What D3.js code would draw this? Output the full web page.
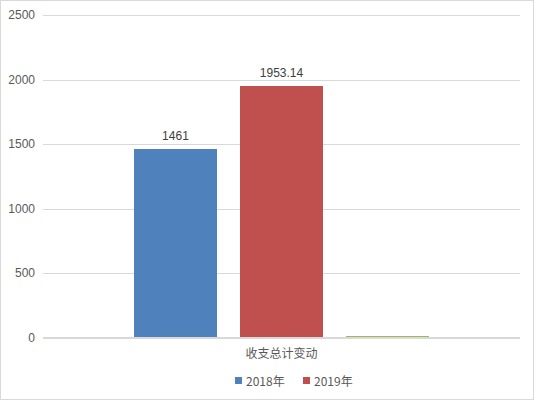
<!DOCTYPE html>
<html><head><meta charset="utf-8">
<script src="https://cdn.jsdelivr.net/npm/d3@7"></script>
<style>body{margin:0;background:#fff}svg{display:block;font-family:"Noto Sans CJK SC","Liberation Sans",sans-serif}</style>
</head><body><svg id="c" width="535" height="401"></svg>
<script>
const categories = ["收支总计变动"];
const seriesNames = ["2018年", "2019年", "变动"];
const values2018 = [1461];
const values2019 = [1953.14];
const valuesChange = [8];
const valueLabels = ["1461", "1953.14", ""];
const yTicks = [0, 500, 1000, 1500, 2000, 2500];
const legendNames = ["2018年", "2019年"];
const colors = ["#4F81BD", "#C0504D", "#9BBB59"];

(function(){
const svg = d3.select("#c");
svg.append("rect").attr("x",0.5).attr("y",0.5).attr("width",533).attr("height",399)
  .attr("fill","#fff").attr("stroke","#D9D9D9");

const mL = 43, mR = 520, mT = 15, mB = 337.5;
const y = d3.scaleLinear().domain([0, 2500]).range([mB, mT]);
const x0 = d3.scaleBand().domain(categories).range([mL, mR]);
const bw = x0.bandwidth();
const x1 = d3.scaleBand().domain(seriesNames).range([bw*0.191, bw*0.809]).paddingInner(0.22);

const yAxis = d3.axisLeft(y).tickValues(yTicks).tickSize(-(mR-mL)).tickPadding(8).tickFormat(d3.format("d"));
const ga = svg.append("g").attr("transform", `translate(${mL},0)`).call(yAxis);
ga.select(".domain").remove();
ga.selectAll(".tick line").attr("stroke", "#D9D9D9").attr("stroke-width",1)
  .attr("shape-rendering","crispEdges");
ga.selectAll(".tick text").attr("fill", "#595959").attr("font-size", 12)
  .attr("font-family","'Liberation Sans',sans-serif");

const data = categories.map((c,i)=>({cat:c, vals:[values2018[i], values2019[i], valuesChange[i]]}));
const g = svg.append("g");
data.forEach(d=>{
  const gg = g.append("g").attr("transform", `translate(${x0(d.cat)},0)`);
  gg.selectAll("rect").data(d.vals).join("rect")
    .attr("x",(v,i)=>x1(seriesNames[i])).attr("width",x1.bandwidth())
    .attr("y",v=>y(v)).attr("height",v=>mB-y(v))
    .attr("fill",(v,i)=>colors[i]).attr("shape-rendering","crispEdges");
  gg.selectAll("text").data(d.vals).join("text")
    .attr("x",(v,i)=>x1(seriesNames[i])+x1.bandwidth()/2)
    .attr("y",v=>y(v)-9)
    .attr("text-anchor","middle").attr("font-size",12).attr("fill","#404040")
    .attr("font-family","'Liberation Sans',sans-serif")
    .text((v,i)=>valueLabels[i]);
});
svg.append("line").attr("x1",mL).attr("x2",mR).attr("y1",y(0)).attr("y2",y(0))
  .attr("stroke","#D9D9D9").attr("shape-rendering","crispEdges");

svg.selectAll(".cat").data(categories).join("text").attr("class","cat")
  .attr("x",d=>x0(d)+bw/2).attr("y",358).attr("text-anchor","middle")
  .attr("font-size",12).attr("fill","#595959").text(d=>d);

const lg = svg.append("g").attr("transform","translate(235,381)");
legendNames.forEach((n,i)=>{
  const gi = lg.append("g").attr("transform",`translate(${i*68},0)`);
  gi.append("rect").attr("x",0).attr("y",-4).attr("width",7).attr("height",7).attr("fill",colors[i]);
  gi.append("text").attr("x",11).attr("y",4.5).attr("font-size",12).attr("fill","#595959").text(n);
});
})();
</script></body></html>
